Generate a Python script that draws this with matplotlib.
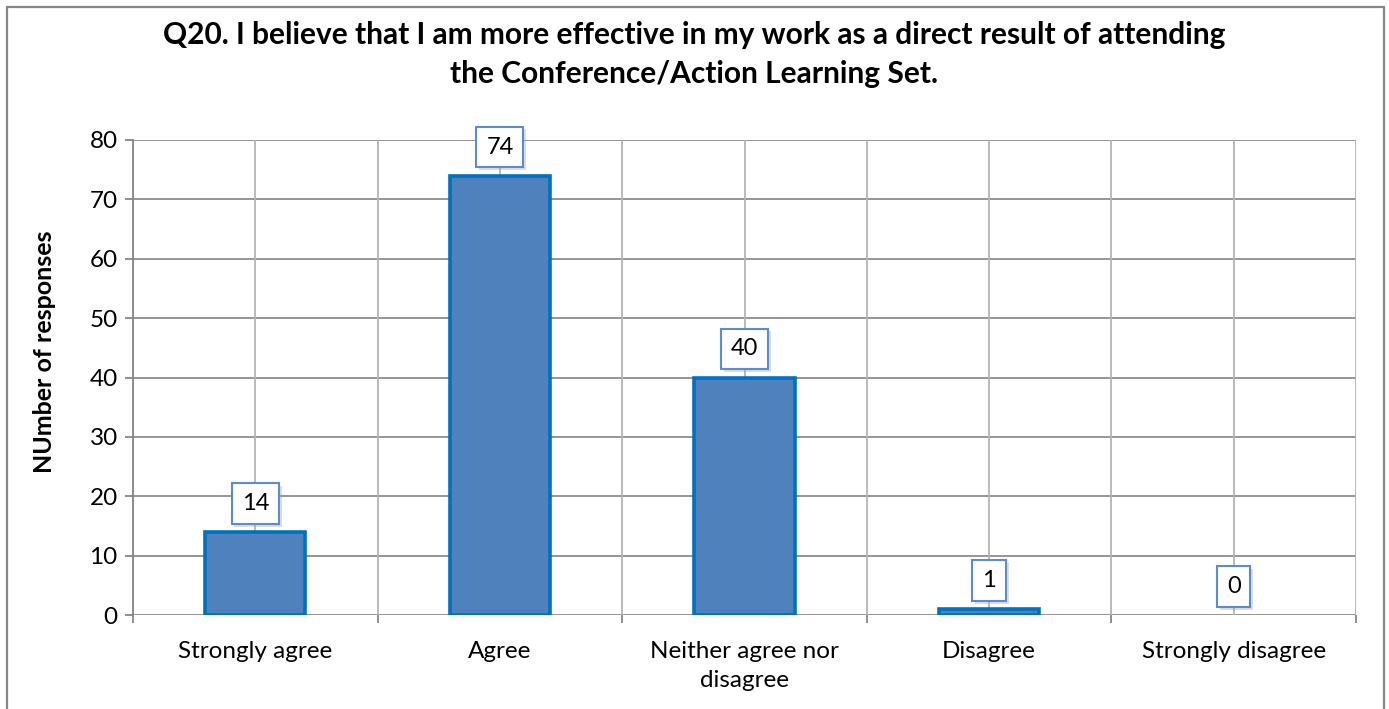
import matplotlib
matplotlib.use("Agg")
import matplotlib.pyplot as plt
from matplotlib.patches import Rectangle
import matplotlib.patheffects as pe

plt.rcParams['font.family'] = ['Lato', 'DejaVu Sans']

categories = ["Strongly agree", "Agree", "Neither agree nor\ndisagree", "Disagree", "Strongly disagree"]
responses = [14, 74, 40, 1, 0]
y_ticks = [0, 10, 20, 30, 40, 50, 60, 70, 80]
title = "Q20. I believe that I am more effective in my work as a direct result of attending\nthe Conference/Action Learning Set."
y_label = "NUmber of responses"

W, H = 1389, 709
fig = plt.figure(figsize=(W / 100, H / 100), dpi=100)
ax = fig.add_axes([133 / W, 1 - 615 / H, (1356 - 133) / W, (615 - 140) / H])

# outer chart frame
fig.patches.append(Rectangle((7 / W, -0.02), (1384 - 7) / W, 1.02 - 7 / H,
                             transform=fig.transFigure, fill=False,
                             edgecolor="#868686", linewidth=1.6, zorder=0))

x = list(range(len(categories)))
ax.set_xlim(-0.5, len(categories) - 0.5)
ax.set_ylim(0, 80)

# grid: horizontal at each y tick, vertical at every half category
for yv in y_ticks:
    ax.axhline(yv, color="#8c8c8c", linewidth=1.3, zorder=0)
for i in range(2 * len(categories) + 1):
    ax.axvline(-0.5 + i * 0.5, color="#b4b4b4", linewidth=1.3, zorder=0)

edge_widths = [2.6 if v > 0 else 0 for v in responses]
bars = ax.bar(x, responses, width=0.41, color="#4F81BD", edgecolor="#0070C0",
              linewidth=edge_widths, zorder=2)

for xi, v in zip(x, responses):
    t = ax.annotate(str(v), (xi, v), xytext=(0, 13), textcoords="offset points",
                    ha="center", va="bottom", fontsize=17, color="black", zorder=5,
                    bbox=dict(boxstyle="square,pad=0.42", facecolor="white",
                              edgecolor="#5B8BD0", linewidth=1.5))
    t.get_bbox_patch().set_path_effects([
        pe.SimplePatchShadow(offset=(2, -2), shadow_rgbFace="#a0a0a0", alpha=0.35),
        pe.Normal()])

for s in ["top", "right", "bottom"]:
    ax.spines[s].set_visible(False)
ax.spines["left"].set_color("#868686")
ax.spines["left"].set_linewidth(1.3)

ax.set_yticks(y_ticks)
ax.tick_params(axis="y", length=6, width=1.3, color="#868686", labelsize=17.5, pad=5)

# category boundaries carry tick marks; centers carry the labels
ax.set_xticks([i - 0.5 for i in range(len(categories) + 1)])
ax.set_xticklabels([])
ax.tick_params(axis="x", which="major", length=6, width=1.3, color="#868686")
ax.set_xticks(x, minor=True)
ax.set_xticklabels(categories, minor=True, fontsize=17.5, linespacing=1.45)
ax.tick_params(axis="x", which="minor", length=0, pad=19)

ax.set_ylabel(y_label, fontsize=18, fontweight="bold")
ax.yaxis.set_label_coords((56 - 133) / (1356 - 133), (615 - 352) / (615 - 140))

fig.text(0.5, 1 - 21 / H, title, ha="center", va="top", fontsize=21.5,
         fontweight="bold", linespacing=1.5)

fig.savefig("out.png", dpi=100)
